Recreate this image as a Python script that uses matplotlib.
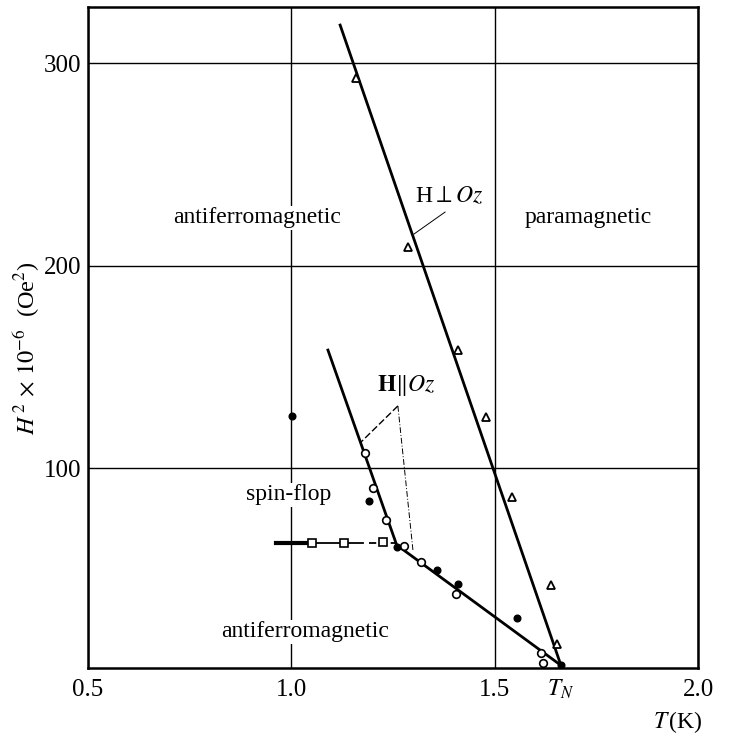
import matplotlib.pyplot as plt

plt.rcParams['font.family'] = 'Liberation Serif'
plt.rcParams['mathtext.fontset'] = 'stix'

# data
# H perpendicular to Oz (triangles)
t_perp = [1.160, 1.288, 1.409, 1.478, 1.542, 1.638, 1.653]
h_perp = [292.6, 209.1, 158.3, 125.2, 85.7, 42.2, 13.1]

# H parallel to Oz, open circles
t_open = [1.182, 1.200, 1.232, 1.278, 1.320, 1.406, 1.613, 1.618]
h_open = [107.4, 90.1, 74.3, 61.5, 53.6, 37.8, 8.6, 3.7]

# filled dots
t_fill = [1.002, 1.192, 1.259, 1.357, 1.411, 1.554, 1.663]
h_fill = [125.7, 83.7, 61.0, 49.6, 42.5, 25.9, 2.7]

# squares (spin-flop boundary)
t_sq = [1.051, 1.129, 1.225]
h_sq = [63.0, 63.0, 63.3]

# phase boundaries
t_line_perp = [1.120, 1.663]
h_line_perp = [318.9, 2.5]
t_line_par = [1.090, 1.259, 1.663]
h_line_par = [158.3, 62.0, 2.5]
t_sf_thick = [0.963, 1.051]
t_sf_thin = [1.051, 1.175]
t_sf_dash = [1.190, 1.259]
h_sf = [63.0, 63.0]

fig = plt.figure(figsize=(7.29, 7.40), dpi=100)
ax = fig.add_axes([0.1207, 0.0973, 0.8368, 0.8926])

ax.set_xlim(0.5, 2.0)
ax.set_ylim(1.2, 327.6)
ax.set_xticks([0.5, 1.0, 1.5, 2.0])
ax.set_xticklabels(['0.5', '1.0', '1.5', '2.0'])
ax.set_yticks([100, 200, 300])
ax.tick_params(length=0, labelsize=18)
ax.tick_params(axis='x', pad=8)
ax.tick_params(axis='y', pad=5)
ax.grid(True, color='black', linewidth=1.0)
for s in ax.spines.values():
    s.set_linewidth(1.8)

# lines
ax.plot(t_line_perp, h_line_perp, color='black', lw=2, zorder=3)
ax.plot(t_line_par, h_line_par, color='black', lw=2, zorder=3)
ax.plot(t_sf_thick, h_sf, color='black', lw=3, zorder=3)
ax.plot(t_sf_thin, h_sf, color='black', lw=1.3, zorder=3)
ax.plot(t_sf_dash, h_sf, color='black', lw=1.3, ls=(0, (4, 2)), zorder=3)

# markers
ax.plot(t_perp, h_perp, ls='none', marker='^', ms=5.5, mfc='white', mec='black', mew=1.3, zorder=4)
ax.plot(t_open, h_open, ls='none', marker='o', ms=5.5, mfc='white', mec='black', mew=1.2, zorder=4)
ax.plot(t_fill, h_fill, ls='none', marker='o', ms=4.8, color='black', zorder=5)
ax.plot(t_sq, h_sq, ls='none', marker='s', ms=5.5, mfc='white', mec='black', mew=1.2, zorder=4)

# leader lines
ax.plot([1.378, 1.302], [226.5, 215.7], color='black', lw=0.7, zorder=3)
ax.plot([1.262, 1.169], [130.7, 112.4], color='black', lw=1.0, ls=(0, (5, 2)), zorder=3)
ax.plot([1.262, 1.299], [130.7, 59.5], color='black', lw=0.7, ls=(0, (6, 2, 1, 2)), zorder=3)

box = dict(facecolor='white', edgecolor='none', pad=1)
fs = 17
ax.text(0.916, 223.6, 'antiferromagnetic', fontsize=fs, ha='center', va='center', bbox=box)
ax.text(1.729, 223.6, 'paramagnetic', fontsize=fs, ha='center', va='center', bbox=box)
ax.text(0.994, 86.7, 'spin-flop', fontsize=fs, ha='center', va='center', bbox=box)
ax.text(1.034, 19.0, 'antiferromagnetic', fontsize=fs, ha='center', va='center', bbox=box)
ax.text(1.388, 234.0, r'H$\perp$$\mathit{Oz}$', fontsize=fs, ha='center', va='center')
ax.text(1.282, 141.0, r'$\mathbf{H}\Vert\mathit{Oz}$', fontsize=fs, ha='center', va='center')

# T_N label below the axis
ax.text(1.663, -9.5, r'$T_N$', fontsize=fs, ha='center', va='center')

fig.text(703 / 729, 1 - 722 / 740, r'$T\,$(K)', fontsize=fs, ha='right', va='center')
fig.text(27 / 729, 1 - 348 / 740, r'$H^{\,2}\,\times\,10^{-6}$  (Oe$^2$)', fontsize=17.5,
         rotation=90, ha='center', va='center')

plt.savefig('out.png', dpi=100)
